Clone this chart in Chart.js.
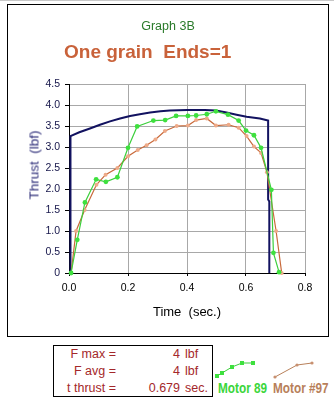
<!DOCTYPE html>
<html>
<head>
<meta charset="utf-8">
<script src="https://cdn.jsdelivr.net/npm/chart.js@4/dist/chart.umd.min.js"></script>
<style>
  html, body { margin: 0; padding: 0; background: #fff; }
  body { width: 334px; height: 408px; position: relative; overflow: hidden; font-family: Arial, "Liberation Sans", sans-serif; }
  .sheet-line { position: absolute; left: 0; top: 0; width: 334px; height: 1px; background: #c8c8c8; }
  .frame { position: absolute; left: 7px; top: 4px; width: 320px; height: 331px; border: 1px solid #000; }
  #wrap { position: absolute; left: 0; top: 0; width: 334px; height: 340px; }
  .graph-no { position: absolute; left: 0; width: 336px; top: 19px; text-align: center; color: #2a7a2a; font-size: 12.5px; }
  .headline { position: absolute; left: 64px; top: 41px; color: #c9623a; font-size: 19px; font-weight: bold; white-space: pre; }
  .ytitle { position: absolute; left: 34px; top: 165px; transform: translate(-50%, -50%) rotate(-90deg); color: #2c2c78; font-size: 13.5px; font-weight: normal; white-space: pre; }
  .stats { position: absolute; left: 53px; top: 345px; width: 158px; height: 50px; border: 1px solid #000; color: #a4282a; font-size: 12.5px; }
  .stats div { position: absolute; white-space: nowrap; }
  .lbl { right: 96px; text-align: right; }
  .num { right: 32px; text-align: right; }
  .unit { left: 131px; }
  .leg { position: absolute; font-weight: bold; font-size: 15.5px; white-space: nowrap; transform: scaleX(0.76); transform-origin: 0 0; }
  canvas.swatch { position: absolute; }
</style>
</head>
<body>
<div class="sheet-line"></div>
<div class="frame"></div>
<div id="wrap"><canvas id="thrustChart" width="334" height="340"></canvas></div>
<div class="graph-no">Graph 3B</div>
<div class="headline">One grain  Ends=1</div>
<div class="ytitle">Thrust  (lbf)</div>

<div class="stats">
  <div class="lbl" style="top:1px">F max =</div>
  <div class="num" style="top:1px">4</div>
  <div class="unit" style="top:1px">lbf</div>
  <div class="lbl" style="top:18px">F avg =</div>
  <div class="num" style="top:18px">4</div>
  <div class="unit" style="top:18px">lbf</div>
  <div class="lbl" style="top:35px">t thrust =</div>
  <div class="num" style="top:35px">0.679</div>
  <div class="unit" style="top:35px">sec.</div>
</div>

<canvas class="swatch" id="sw89" width="44" height="20" style="left:213px;top:359px"></canvas>
<div class="leg" style="left:218px;top:379px;color:#3bd63b">Motor 89</div>
<canvas class="swatch" id="sw97" width="44" height="20" style="left:272px;top:359px"></canvas>
<div class="leg" style="left:273px;top:379px;color:#b8805a">Motor #97</div>

<script>
// ideal thrust curve (navy, no markers)
const idealTime   = [0.005, 0.005, 0.035, 0.071, 0.105, 0.139, 0.173, 0.207, 0.24, 0.275, 0.31, 0.342, 0.4, 0.46, 0.498, 0.534, 0.568, 0.602, 0.647, 0.675, 0.675, 0.679, 0.679];
const idealThrust = [0, 3.26, 3.35, 3.44, 3.53, 3.61, 3.68, 3.74, 3.78, 3.82, 3.85, 3.87, 3.88, 3.88, 3.87, 3.82, 3.77, 3.72, 3.68, 3.63, 1.75, 1.7, 0];

// Motor 89 test firing
const motor89Time   = [0.007, 0.028, 0.054, 0.092, 0.125, 0.164, 0.2, 0.231, 0.286, 0.326, 0.363, 0.403, 0.431, 0.467, 0.498, 0.539, 0.575, 0.6, 0.627, 0.651, 0.686, 0.693, 0.712];
const motor89Thrust = [0, 0.79, 1.68, 2.23, 2.17, 2.28, 2.98, 3.49, 3.63, 3.64, 3.74, 3.74, 3.75, 3.78, 3.85, 3.77, 3.63, 3.39, 3.28, 2.98, 1.98, 0.48, 0.02];

// Motor #97 test firing
const motor97Time   = [0.007, 0.024, 0.053, 0.093, 0.124, 0.164, 0.2, 0.233, 0.263, 0.293, 0.325, 0.365, 0.403, 0.431, 0.467, 0.498, 0.541, 0.575, 0.602, 0.627, 0.651, 0.671, 0.702, 0.721];
const motor97Thrust = [0, 1.0, 1.5, 2.1, 2.34, 2.5, 2.78, 2.93, 3.04, 3.18, 3.38, 3.5, 3.51, 3.64, 3.68, 3.51, 3.53, 3.46, 3.26, 3.01, 2.86, 2.4, 1.0, 0];

const xTicks = [0, 0.2, 0.4, 0.6, 0.8];
const yTicks = [0, 0.5, 1, 1.5, 2, 2.5, 3, 3.5, 4, 4.5];

const toPoints = (xs, ys) => xs.map((x, i) => ({ x: x, y: ys[i] }));

new Chart(document.getElementById('thrustChart'), {
    type: 'scatter',
    data: {
        datasets: [
            {
                label: 'Motor 89',
                data: toPoints(motor89Time, motor89Thrust),
                showLine: true,
                borderColor: '#3ccf3c',
                backgroundColor: '#3ee03e',
                borderWidth: 1.2,
                pointRadius: 2.4,
                pointBorderWidth: 0,
                clip: false,
                order: 1
            },
            {
                label: 'Motor #97',
                data: toPoints(motor97Time, motor97Thrust),
                showLine: true,
                borderColor: '#c8693a',
                backgroundColor: '#eeaa88',
                borderWidth: 1.2,
                pointRadius: 2,
                pointBorderWidth: 0,
                clip: false,
                order: 2
            },
            {
                label: 'Ideal',
                data: toPoints(idealTime, idealThrust),
                showLine: true,
                borderColor: '#121260',
                borderWidth: 2,
                pointRadius: 0,
                clip: false,
                order: 3
            }
        ]
    },
    options: {
        responsive: false,
        animation: false,
        events: [],
        layout: { padding: { top: 84, right: 29, left: 0, bottom: 0 } },
        plugins: {
            legend: { display: false },
            tooltip: { enabled: false }
        },
        scales: {
            x: {
                type: 'linear',
                min: 0,
                max: 0.8,
                afterBuildTicks: s => { s.ticks = xTicks.map(v => ({ value: v })); },
                afterFit: s => { s.height = 67; },
                ticks: {
                    color: '#000',
                    font: { family: 'Arial', size: 10.5 },
                    padding: 6,
                    callback: v => v.toFixed(1)
                },
                grid: { color: '#a8a8a8', tickColor: '#000', tickLength: 3 },
                border: { color: '#000', width: 1 },
                title: {
                    display: true,
                    text: 'Time  (sec.)',
                    color: '#000',
                    font: { family: 'Arial', size: 13 },
                    padding: { top: 0, bottom: 20 }
                }
            },
            y: {
                min: 0,
                max: 4.5,
                afterBuildTicks: s => { s.ticks = yTicks.map(v => ({ value: v })); },
                afterFit: s => { s.width = 69; },
                ticks: {
                    color: '#15154a',
                    font: { family: 'Arial', size: 10.5 },
                    padding: 5
                },
                grid: { color: '#a8a8a8', tickColor: '#000', tickLength: 4 },
                border: { color: '#000', width: 1 }
            }
        }
    }
});

// legend swatches next to the stats box
function swatch(id, xs, ys, line, fill, square) {
    const c = document.getElementById(id).getContext('2d');
    c.strokeStyle = line;
    c.lineWidth = 1;
    c.beginPath();
    xs.forEach((x, i) => i ? c.lineTo(x, ys[i]) : c.moveTo(x, ys[i]));
    c.stroke();
    c.fillStyle = fill;
    xs.forEach((x, i) => {
        c.beginPath();
        if (square) c.rect(x - 2, ys[i] - 2, 4, 4);
        else c.arc(x, ys[i], 1.6, 0, Math.PI * 2);
        c.fill();
    });
}
swatch('sw89', [4, 9, 19, 29, 40], [17, 14, 8, 4, 4], '#3ccf3c', '#3ee03e', true);
swatch('sw97', [3, 25, 40], [18, 6, 4], '#b8805a', '#c89070', false);
</script>
</body>
</html>
